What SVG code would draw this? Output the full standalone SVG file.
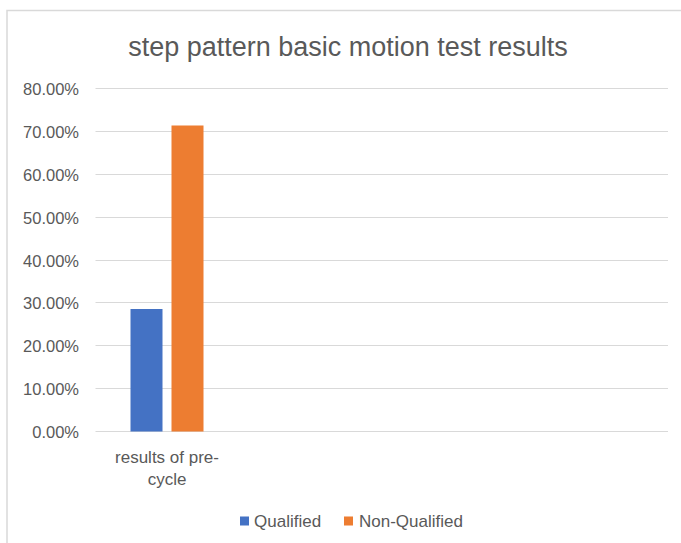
<svg xmlns="http://www.w3.org/2000/svg" width="681" height="543" viewBox="0 0 681 543">
  <style>
    .txt { font-family: "Liberation Sans", Arial, sans-serif; fill: #595959; }
    .ylab { font-size: 16.5px; text-anchor: end; }
    .cat { font-size: 17px; text-anchor: middle; }
    .leg { font-size: 17px; }
    .grid { stroke: #d9d9d9; stroke-width: 1; fill: none; }
    .frame { stroke: #d9d9d9; stroke-width: 1.5; fill: none; }
  </style>
  <rect x="0" y="0" width="681" height="543" fill="#ffffff"/>
  <g id="chart-frame">
    <polyline class="frame" points="7,543 7,10.5 681,10.5"/>
  </g>
  <g id="title">
    <text class="txt" x="348" y="55.5" font-size="27" text-anchor="middle">step pattern basic motion test results</text>
  </g>
  <g id="gridlines">
    <line class="grid" x1="95.5" y1="88.5" x2="668" y2="88.5"/>
    <line class="grid" x1="95.5" y1="131.5" x2="668" y2="131.5"/>
    <line class="grid" x1="95.5" y1="174.5" x2="668" y2="174.5"/>
    <line class="grid" x1="95.5" y1="217.5" x2="668" y2="217.5"/>
    <line class="grid" x1="95.5" y1="260.5" x2="668" y2="260.5"/>
    <line class="grid" x1="95.5" y1="302.5" x2="668" y2="302.5"/>
    <line class="grid" x1="95.5" y1="345.5" x2="668" y2="345.5"/>
    <line class="grid" x1="95.5" y1="388.5" x2="668" y2="388.5"/>
    <line class="grid" x1="95.5" y1="431.5" x2="668" y2="431.5"/>
  </g>
  <g id="y-axis-labels">
    <text class="txt ylab" x="79" y="94.5">80.00%</text>
    <text class="txt ylab" x="79" y="137.5">70.00%</text>
    <text class="txt ylab" x="79" y="180.5">60.00%</text>
    <text class="txt ylab" x="79" y="223.5">50.00%</text>
    <text class="txt ylab" x="79" y="266.5">40.00%</text>
    <text class="txt ylab" x="79" y="308.5">30.00%</text>
    <text class="txt ylab" x="79" y="351.5">20.00%</text>
    <text class="txt ylab" x="79" y="394.5">10.00%</text>
    <text class="txt ylab" x="79" y="437.5">0.00%</text>
  </g>
  <g id="series-qualified">
    <rect x="130.5" y="309" width="32" height="122.5" fill="#4472C4"/>
  </g>
  <g id="series-non-qualified">
    <rect x="171.5" y="125.5" width="32" height="306" fill="#ED7D31"/>
  </g>
  <g id="category-label">
    <text class="txt cat" x="167" y="462.5">results of pre-</text>
    <text class="txt cat" x="167" y="484.5">cycle</text>
  </g>
  <g id="legend">
    <rect x="240" y="516.5" width="9" height="9" fill="#4472C4"/>
    <text class="txt leg" x="254" y="526.5">Qualified</text>
    <rect x="344" y="516.5" width="9" height="9" fill="#ED7D31"/>
    <text class="txt leg" x="359" y="526.5">Non-Qualified</text>
  </g>
</svg>
